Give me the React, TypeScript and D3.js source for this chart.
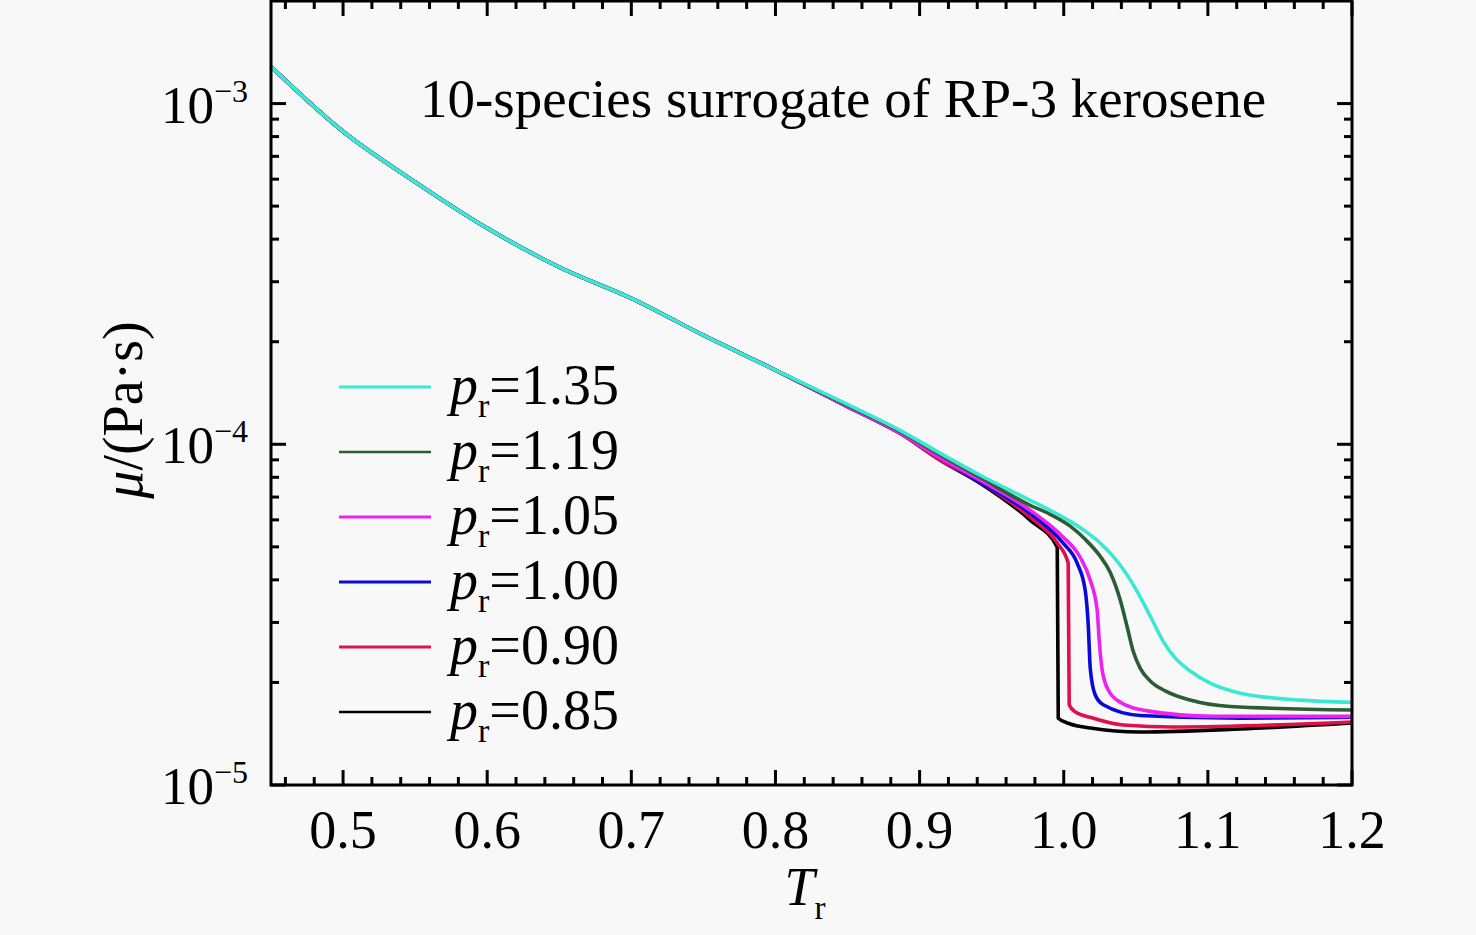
import * as d3 from 'd3';

import {useMemo} from 'react';

const WIDTH = 1476;
const HEIGHT = 935;
const LEFT = 271;
const RIGHT = 1352;
const TOP = 1;
const BOTTOM = 785;

type Point = [number, number];

// shared part of all six curves (T_r, viscosity)
const common: Point[] = [
  [0.45, 1.284e-3],
  [0.5, 8.28e-4],
  [0.55, 5.89e-4],
  [0.6, 4.31e-4],
  [0.65, 3.31e-4],
  [0.7, 2.68e-4],
  [0.75, 2.09e-4],
  [0.8, 1.65e-4],
];

const tail085: Point[] = [
  [0.85, 1.29e-4], [0.8865, 1.077e-4], [0.9143, 8.98e-5], [0.942, 7.69e-5], [0.9767, 5.99e-5],
  [0.9955, 4.99e-5], [0.9962, 1.57e-5], [1.0045, 1.51e-5], [1.0184, 1.47e-5],
  [1.0531, 1.43e-5], [1.1225, 1.46e-5], [1.2, 1.52e-5],
];
const tail090: Point[] = [
  [0.85, 1.29e-4], [0.8865, 1.077e-4], [0.9143, 8.98e-5], [0.942, 7.74e-5], [0.9767, 6.11e-5],
  [0.9955, 5.13e-5], [1.0031, 4.48e-5], [1.0038, 1.72e-5], [1.0079, 1.64e-5], [1.0184, 1.58e-5],
  [1.0413, 1.5e-5], [1.076, 1.48e-5], [1.2, 1.53e-5],
];
const tail100: Point[] = [
  [0.85, 1.29e-4], [0.8865, 1.077e-4], [0.9143, 9.1e-5], [0.942, 7.74e-5], [0.9767, 6.27e-5],
  [0.9996, 5.13e-5], [1.0093, 4.48e-5], [1.0149, 3.73e-5], [1.017, 2.95e-5], [1.0184, 2.2e-5],
  [1.0218, 1.84e-5], [1.0274, 1.72e-5], [1.0531, 1.6e-5], [1.1225, 1.57e-5], [1.2, 1.58e-5],
];
const tail105: Point[] = [
  [0.85, 1.29e-4], [0.8865, 1.077e-4], [0.9143, 9.1e-5], [0.942, 7.84e-5], [0.9767, 6.4e-5],
  [0.9996, 5.34e-5], [1.0114, 4.66e-5], [1.0184, 3.99e-5], [1.0232, 3.26e-5], [1.0246, 2.66e-5],
  [1.0267, 2.17e-5], [1.0309, 1.9e-5], [1.0392, 1.75e-5], [1.0579, 1.65e-5], [1.1037, 1.59e-5],
  [1.2, 1.59e-5],
];
const tail119: Point[] = [
  [0.85, 1.3e-4], [0.8865, 1.09e-4], [0.9143, 9.3e-5], [0.942, 8.0e-5], [0.9767, 6.62e-5],
  [0.9906, 6.23e-5], [1.0045, 5.75e-5], [1.0149, 5.26e-5], [1.0253, 4.69e-5], [1.0322, 4.21e-5],
  [1.0392, 3.49e-5], [1.0441, 2.9e-5], [1.0482, 2.47e-5], [1.0531, 2.2e-5], [1.06, 2.02e-5],
  [1.0704, 1.89e-5], [1.0877, 1.775e-5], [1.1155, 1.7e-5], [1.2, 1.66e-5],
];
const tail135: Point[] = [
  [0.85, 1.31e-4], [0.8865, 1.099e-4], [0.9143, 9.41e-5], [0.942, 8.11e-5], [0.9767, 6.85e-5],
  [0.9906, 6.4e-5], [1.0045, 5.94e-5], [1.0149, 5.56e-5], [1.0253, 5.13e-5], [1.0343, 4.69e-5],
  [1.0441, 4.13e-5], [1.0531, 3.56e-5], [1.0614, 3.05e-5], [1.069, 2.64e-5], [1.0773, 2.36e-5],
  [1.0877, 2.16e-5], [1.1016, 1.99e-5], [1.1225, 1.86e-5], [1.1641, 1.775e-5], [1.2, 1.75e-5],
];

const legendLabels = ['1.35', '1.19', '1.05', '1.00', '0.90', '0.85'];
const legendColors = ['#3ae8d4', '#2b5d34', '#ee22ee', '#0a0ad8', '#e0104a', '#000000'];
const tails = [tail135, tail119, tail105, tail100, tail090, tail085];

const xTicks = [0.5, 0.6, 0.7, 0.8, 0.9, 1.0, 1.1, 1.2];
const yTicks = [1e-5, 1e-4, 1e-3];
const yTickExps = ['−5', '−4', '−3'];

const FONT = '"Liberation Serif", "Times New Roman", serif';

function App() {
  const x = useMemo(() => d3.scaleLinear().domain([0.45, 1.2]).range([LEFT, RIGHT]), []);
  const y = useMemo(() => d3.scaleLog().domain([1e-5, 2e-3]).range([BOTTOM, TOP]), []);

  const line = useMemo(() => d3
    .line<Point>()
    .x((d) => x(d[0]))
    .y((d) => y(d[1]))
    .curve(d3.curveMonotoneX), [x, y]);

  const xMinor = d3.range(0.46, 1.2001, 0.02).filter((v) => Math.abs(v * 10 - Math.round(v * 10)) > 1e-6);
  const yMinor: number[] = [];
  [1e-5, 1e-4, 1e-3].forEach((dec) => {
    for (let k = 2; k <= 9; k++) {
      const v = k * dec;
      if (v < 2e-3) yMinor.push(v);
    }
  });

  // draw order: black first, cyan last (on top)
  const order = [5, 4, 3, 2, 1, 0];

  return (
    <svg
      width={WIDTH}
      height={HEIGHT}
      style={{position: 'fixed', left: 0, top: 0, background: '#f8f8f8'}}
      fontFamily={FONT}
    >
      <rect x={0} y={0} width={WIDTH} height={HEIGHT} fill="#f8f8f8" />

      {order.map((i) => (
        <path
          key={legendLabels[i]}
          d={line([...common, ...tails[i]])!}
          fill="none"
          stroke={legendColors[i]}
          strokeWidth={3.6}
          strokeLinejoin="round"
        />
      ))}

      {/* frame */}
      <rect x={LEFT} y={TOP} width={RIGHT - LEFT} height={BOTTOM - TOP} fill="none" stroke="#000" strokeWidth={3} />

      {/* x ticks, bottom and top, pointing inward */}
      {xTicks.map((t) => (
        <g key={`xt${t}`}>
          <line x1={x(t)} x2={x(t)} y1={BOTTOM} y2={BOTTOM - 15} stroke="#000" strokeWidth={3} />
          <line x1={x(t)} x2={x(t)} y1={TOP} y2={TOP + 15} stroke="#000" strokeWidth={3} />
          <text x={x(t)} y={848} textAnchor="middle" fontSize={54}>{t.toFixed(1)}</text>
        </g>
      ))}
      {xMinor.map((t) => (
        <g key={`xm${t}`}>
          <line x1={x(t)} x2={x(t)} y1={BOTTOM} y2={BOTTOM - 8} stroke="#000" strokeWidth={3} />
          <line x1={x(t)} x2={x(t)} y1={TOP} y2={TOP + 8} stroke="#000" strokeWidth={3} />
        </g>
      ))}

      {/* y ticks, left and right */}
      {yTicks.map((t, i) => (
        <g key={`yt${i}`}>
          <line x1={LEFT} x2={LEFT + 15} y1={y(t)} y2={y(t)} stroke="#000" strokeWidth={3} />
          <line x1={RIGHT} x2={RIGHT - 15} y1={y(t)} y2={y(t)} stroke="#000" strokeWidth={3} />
          <text x={248} y={y(t) + 19} textAnchor="end" fontSize={53}>
            10<tspan dy={-21} fontSize={32}>{yTickExps[i]}</tspan>
          </text>
        </g>
      ))}
      {yMinor.map((t) => (
        <g key={`ym${t}`}>
          <line x1={LEFT} x2={LEFT + 8} y1={y(t)} y2={y(t)} stroke="#000" strokeWidth={3} />
          <line x1={RIGHT} x2={RIGHT - 8} y1={y(t)} y2={y(t)} stroke="#000" strokeWidth={3} />
        </g>
      ))}

      {/* axis titles */}
      <text x={805} y={905} textAnchor="middle" fontSize={54}>
        <tspan fontStyle="italic">T</tspan>
        <tspan dy={14} fontSize={33}>r</tspan>
      </text>
      <text transform="translate(142,410) rotate(-90)" textAnchor="middle" fontSize={56}>
        <tspan fontStyle="italic">μ</tspan>/(Pa·s)
      </text>

      <text x={420} y={117} fontSize={55}>10-species surrogate of RP-3 kerosene</text>

      {/* legend */}
      {legendLabels.map((lab, i) => {
        const ly = 387 + i * 65;
        return (
          <g key={`lg${lab}`}>
            <line x1={339} x2={431} y1={ly} y2={ly} stroke={legendColors[i]} strokeWidth={i === 1 || i === 5 ? 2.5 : 3} />
            <text x={450} y={ly + 17} fontSize={56}>
              <tspan fontStyle="italic">p</tspan>
              <tspan dy={13} fontSize={34}>r</tspan>
              <tspan dy={-13}>={lab}</tspan>
            </text>
          </g>
        );
      })}
    </svg>
  );
}

export default App;
